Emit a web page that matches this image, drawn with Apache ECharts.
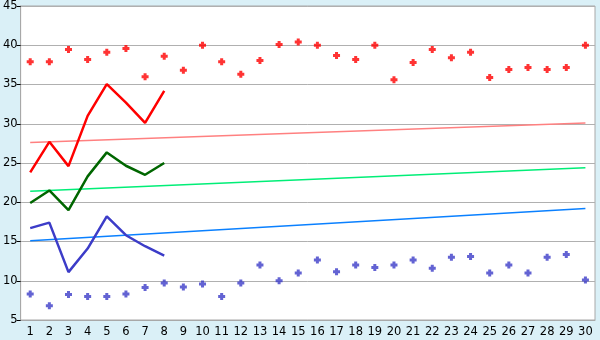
<!DOCTYPE html>
<html><head><meta charset="utf-8">
<script src="https://cdn.jsdelivr.net/npm/echarts@6/dist/echarts.min.js"></script>
<style>html,body{margin:0;padding:0;background:#daf0f7}#c{width:600px;height:340px}</style>
</head><body><div id="c"></div>
<script>
const categories = Array.from({length:30},(_,i)=>String(i+1));
const redPoints = [37.9,37.9,39.45,38.2,39.1,39.6,36.0,38.6,36.8,40.0,37.9,36.3,38.05,40.1,40.4,40.0,38.7,38.2,40.0,35.6,37.8,39.45,38.4,39.1,35.9,36.9,37.15,36.9,37.15,40.0];
const bluePoints = [8.3,6.8,8.25,8.0,8.0,8.3,9.15,9.7,9.2,9.6,8.0,9.7,12.0,10.0,11.0,12.65,11.15,12.0,11.7,12.0,12.65,11.6,13.0,13.1,11.0,12.0,11.0,13.0,13.35,10.1];
const redLine = [23.8,27.7,24.6,31.0,35.05,32.7,30.1,34.2];
const greenLine = [19.9,21.5,19.0,23.3,26.35,24.65,23.5,25.0];
const blueLine = [16.7,17.4,11.1,14.1,18.2,15.8,14.4,13.2];
const redTrend = [27.6,30.1];
const greenTrend = [21.4,24.4];
const blueTrend = [15.1,19.2];
const yTicks = [5,10,15,20,25,30,35,40,45];

const plus = 'path://M2,0H5V2H7V5H5V7H2V5H0V2H2Z';
const trend = (vals,color)=>({type:'line',data:[[0,vals[0]],[29,vals[1]]],symbol:'none',lineStyle:{color:color,width:1.5},silent:true,z:2});
const line = (vals,color)=>({type:'line',data:vals,symbol:'none',lineStyle:{color:color,width:2.5},z:3});
const scatter = (vals,color)=>({type:'scatter',data:vals,symbol:plus,symbolSize:7,itemStyle:{color:color},z:4});

const chart = echarts.init(document.getElementById('c'));
chart.setOption({
  animation:false,
  backgroundColor:'#daf0f7',
  grid:{left:20,right:5,top:5,bottom:20,show:true,backgroundColor:'#ffffff',borderColor:'#a8a8a8',borderWidth:1},
  xAxis:{type:'category',data:categories,boundaryGap:true,
    axisLine:{lineStyle:{color:'#a8a8a8'}},
    axisTick:{alignWithLabel:true,length:5,lineStyle:{color:'#000'}},
    axisLabel:{color:'#000',fontFamily:'DejaVu Sans',fontSize:11.5,margin:6,interval:0},
    splitLine:{show:false}},
  yAxis:{type:'value',min:yTicks[0],max:yTicks[yTicks.length-1],interval:5,
    axisLine:{show:true,lineStyle:{color:'#a8a8a8'}},
    axisTick:{show:true,length:4,lineStyle:{color:'#000'}},
    axisLabel:{color:'#000',fontFamily:'DejaVu Sans',fontSize:11.5,margin:3},
    splitLine:{lineStyle:{color:'#b0b0b0',width:1}}},
  series:[
    trend(redTrend,'#ff8080'),
    trend(greenTrend,'#00ee77'),
    trend(blueTrend,'#0a80ff'),
    line(redLine,'#ff0000'),
    line(greenLine,'#006600'),
    line(blueLine,'#3c3cc8'),
    scatter(redPoints,'#ff0000'),
    scatter(bluePoints,'#3c3cc8')
  ]
});
</script></body></html>
